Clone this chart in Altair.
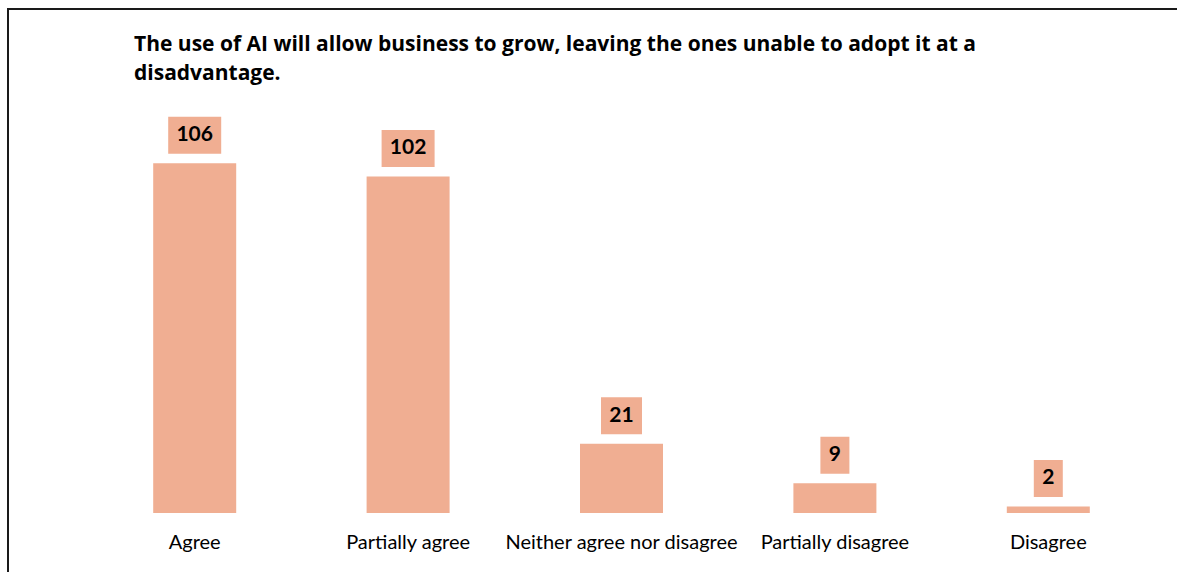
import altair as alt
import pandas as pd

categories = ["Agree", "Partially agree", "Neither agree nor disagree", "Partially disagree", "Disagree"]
values = [106, 102, 21, 9, 2]
title_lines = [
    "The use of AI will allow business to grow, leaving the ones unable to adopt it at a",
    "disadvantage.",
]

BAR_COLOR = "#F0AE92"
FONT = "Lato"
TITLE_FONT = "Open Sans"

df = pd.DataFrame({"category": categories, "value": values})
df["label"] = df["value"].astype(str)

# label box as a custom symbol path (width depends on number of digits)
REF_W = 53.0
BOX_H = 37.0
def box_path(label):
    w = 17 + 12 * len(label)
    hx = w / REF_W
    hy = BOX_H / REF_W
    return f"M{-hx},{-hy}L{hx},{-hy}L{hx},{hy}L{-hx},{hy}Z"
df["box"] = df["label"].apply(box_path)

PLOT_LEFT, PLOT_TOP = 88, 117
W, H = 1067, 396

x_enc = alt.X(
    "category:N",
    sort=categories,
    scale=alt.Scale(paddingInner=0, paddingOuter=0),
    axis=alt.Axis(
        title=None, domain=False, ticks=False, labelAngle=0, labelLimit=0,
        labelFontSize=20, labelFont=FONT, labelColor="#000000", labelPadding=19,
    ),
)
y_enc = alt.Y("value:Q", scale=alt.Scale(domain=[0, 120], nice=False), axis=None)

base = alt.Chart(df)

bars = base.mark_bar(width=83, color=BAR_COLOR).encode(x=x_enc, y=y_enc)

boxes = base.mark_point(filled=True, opacity=1, color=BAR_COLOR, size=REF_W ** 2, yOffset=-28).encode(
    x=alt.X("category:N", sort=categories),
    y=alt.Y("value:Q"),
    shape=alt.Shape("box:N", scale=None, legend=None),
)

labels = base.mark_text(
    font=FONT, fontSize=21, fontWeight="bold", color="#000000", baseline="middle", dy=-28
).encode(
    x=alt.X("category:N", sort=categories),
    y=alt.Y("value:Q"),
    text="label:N",
)

title_df = pd.DataFrame({"title": ["\n".join(title_lines)]})
title = alt.Chart(title_df).mark_text(
    font=TITLE_FONT, fontSize=21, fontWeight="bold", color="#000000",
    align="left", baseline="alphabetic", lineBreak="\n", lineHeight=29,
).encode(
    x=alt.value(134 - PLOT_LEFT),
    y=alt.value(51 - PLOT_TOP),
    text="title:N",
)

border = alt.Chart(pd.DataFrame({"a": [0]})).mark_rect(
    fill=None, stroke="#1a1a1a", strokeWidth=2
).encode(
    x=alt.value(8 - PLOT_LEFT),
    x2=alt.value(1300),
    y=alt.value(9 - PLOT_TOP),
    y2=alt.value(700),
)

chart = alt.layer(border, bars, boxes, labels, title).properties(
    width=W,
    height=H,
    autosize=alt.AutoSizeParams(type="none"),
    padding={"left": PLOT_LEFT, "top": PLOT_TOP, "right": 1177 - PLOT_LEFT - W, "bottom": 572 - PLOT_TOP - H},
).configure_view(stroke=None)

chart.save("out.html", embed_options={"renderer": "svg", "actions": False})
